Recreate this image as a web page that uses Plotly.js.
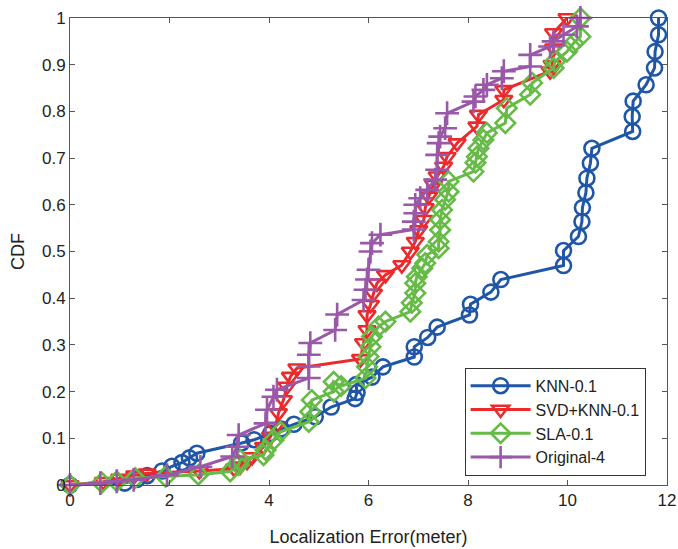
<!DOCTYPE html>
<html>
<head>
<meta charset="utf-8">
<script src="https://cdn.plot.ly/plotly-3.0.1.min.js"></script>
<style>html,body{margin:0;padding:0;background:#fff;}#chart{width:678px;height:549px;}</style>
</head>
<body>
<div id="chart"></div>
<script>
// KNN-0.1
const knnX = [0, 1.1, 1.35, 1.55, 1.85, 2.05, 2.25, 2.4, 2.55, 3.45, 3.7, 4.03, 4.25, 4.5, 4.93, 5.25, 5.73, 5.77, 5.75, 6.07, 6.29, 6.92, 6.92, 7.19, 7.38, 8.03, 8.05, 8.46, 8.66, 9.92, 9.92, 10.22, 10.29, 10.30, 10.37, 10.39, 10.46, 10.49, 11.31, 11.30, 11.32, 11.58, 11.75, 11.76, 11.83, 11.83];
const knnY = [0, 0.004, 0.012, 0.02, 0.03, 0.04, 0.048, 0.058, 0.068, 0.09, 0.097, 0.11, 0.12, 0.13, 0.146, 0.167, 0.185, 0.198, 0.215, 0.231, 0.253, 0.274, 0.296, 0.316, 0.338, 0.364, 0.387, 0.413, 0.44, 0.47, 0.502, 0.532, 0.564, 0.594, 0.626, 0.657, 0.689, 0.721, 0.757, 0.789, 0.822, 0.857, 0.893, 0.928, 0.964, 1.0];
// SVD+KNN-0.1
const svdX = [0, 0.67, 1.0, 1.3, 1.55, 2.6, 3.3, 3.42, 3.56, 3.66, 3.89, 4.03, 4.13, 4.19, 4.29, 4.36, 4.43, 4.56, 5.84, 5.9, 5.97, 5.97, 6.04, 6.10, 6.17, 6.34, 6.67, 6.84, 6.94, 7.01, 7.11, 7.14, 7.21, 7.31, 7.38, 7.51, 7.58, 7.78, 8.18, 8.21, 8.72, 8.72, 9.65, 9.69, 9.72, 9.72, 9.99];
const svdY = [0, 0.007, 0.014, 0.021, 0.025, 0.03, 0.035, 0.04, 0.05, 0.06, 0.082, 0.104, 0.125, 0.154, 0.182, 0.211, 0.232, 0.25, 0.27, 0.304, 0.332, 0.364, 0.386, 0.41, 0.432, 0.45, 0.471, 0.5, 0.521, 0.546, 0.568, 0.593, 0.618, 0.643, 0.661, 0.682, 0.703, 0.732, 0.768, 0.793, 0.825, 0.846, 0.886, 0.9, 0.935, 0.968, 1.0];
// SLA-0.1
const slaX = [0, 0.64, 0.94, 1.31, 1.92, 2.58, 3.22, 3.39, 3.42, 3.89, 3.93, 4.09, 4.23, 4.8, 4.83, 4.86, 5.3, 5.3, 5.45, 5.94, 5.97, 6.0, 6.04, 6.07, 6.2, 6.34, 6.84, 6.87, 6.94, 6.94, 6.97, 7.08, 7.14, 7.18, 7.41, 7.41, 7.44, 7.44, 7.48, 7.54, 7.61, 7.61, 8.11, 8.15, 8.18, 8.21, 8.31, 8.38, 8.75, 8.78, 9.25, 9.29, 9.72, 9.75, 9.99, 10.12, 10.26, 10.26];
const slaY = [0, 0.005, 0.008, 0.015, 0.018, 0.022, 0.029, 0.043, 0.054, 0.064, 0.075, 0.096, 0.114, 0.135, 0.157, 0.182, 0.2, 0.221, 0.212, 0.229, 0.253, 0.275, 0.296, 0.318, 0.339, 0.35, 0.371, 0.39, 0.411, 0.432, 0.446, 0.464, 0.475, 0.493, 0.507, 0.521, 0.546, 0.568, 0.589, 0.611, 0.628, 0.65, 0.671, 0.69, 0.703, 0.721, 0.739, 0.754, 0.775, 0.807, 0.836, 0.861, 0.893, 0.907, 0.928, 0.946, 0.96, 1.0];
// Original-4
const orgX = [0, 0.61, 0.94, 1.28, 1.95, 2.62, 3.26, 3.36, 3.39, 3.93, 3.96, 4.09, 4.16, 4.8, 4.8, 4.8, 4.83, 5.33, 5.37, 5.9, 5.94, 5.97, 6.0, 6.04, 6.07, 6.24, 6.91, 6.91, 6.94, 6.94, 7.04, 7.18, 7.34, 7.38, 7.38, 7.41, 7.44, 7.54, 7.58, 8.11, 8.15, 8.31, 8.38, 8.68, 8.72, 9.25, 9.25, 9.65, 9.72, 9.92, 10.19, 10.26];
const orgY = [0, 0.004, 0.008, 0.011, 0.021, 0.039, 0.061, 0.082, 0.107, 0.132, 0.161, 0.189, 0.204, 0.229, 0.254, 0.279, 0.304, 0.332, 0.365, 0.396, 0.418, 0.44, 0.461, 0.5, 0.518, 0.536, 0.547, 0.564, 0.582, 0.6, 0.614, 0.632, 0.654, 0.675, 0.707, 0.732, 0.746, 0.764, 0.796, 0.821, 0.832, 0.846, 0.857, 0.871, 0.886, 0.896, 0.921, 0.939, 0.95, 0.964, 0.982, 1.0];

const seriesNames = ['KNN-0.1', 'SVD+KNN-0.1', 'SLA-0.1', 'Original-4'];
const xTicks = [0, 2, 4, 6, 8, 10, 12];
const yTicks = [0, 0.1, 0.2, 0.3, 0.4, 0.5, 0.6, 0.7, 0.8, 0.9, 1];
const yTickText = ['0', '0.1', '0.2', '0.3', '0.4', '0.5', '0.6', '0.7', '0.8', '0.9', '1'];

const colors = ['#1f56a7', '#ec2a2c', '#66bb47', '#9a58a8'];
const symbols = ['circle-open', 'triangle-down-open', 'diamond-open', 'cross-thin-open'];
const sizes = [15, 15, 15, 17];
const xs = [knnX, svdX, slaX, orgX];
const ys = [knnY, svdY, slaY, orgY];

const traces = seriesNames.map((n, i) => ({
  x: xs[i], y: ys[i], name: n, type: 'scatter', mode: 'lines+markers',
  cliponaxis: false,
  line: {color: colors[i], width: 3},
  marker: {symbol: symbols[i], size: sizes[i], color: colors[i], line: {color: colors[i], width: 2.6}}
}));

const font = {family: '"Liberation Sans", Arial, Helvetica, sans-serif', color: '#222', size: 17};

const layout = {
  width: 678, height: 549,
  margin: {l: 70, r: 11, t: 18, b: 64},
  paper_bgcolor: '#fff', plot_bgcolor: '#fff',
  font: font,
  showlegend: true,
  xaxis: {
    range: [0, 12], tickvals: xTicks, ticktext: xTicks.map(String),
    showline: true, linecolor: '#555', linewidth: 1, mirror: 'ticks',
    ticks: 'inside', ticklen: 5, tickcolor: '#555',
    showgrid: false, zeroline: false,
    title: {text: 'Localization Error(meter)', font: {size: 18, color: '#222'}, standoff: 20},
    tickfont: {size: 17}
  },
  yaxis: {
    range: [0, 1], tickvals: yTicks, ticktext: yTickText,
    showline: true, linecolor: '#555', linewidth: 1, mirror: 'ticks',
    ticks: 'inside', ticklen: 5, tickcolor: '#555',
    showgrid: false, zeroline: false,
    title: {text: 'CDF', font: {size: 18, color: '#222'}, standoff: 12},
    tickfont: {size: 17}
  },
  legend: {
    x: 0.661, y: 0.251, xanchor: 'left', yanchor: 'top',
    bgcolor: '#fff', bordercolor: '#333', borderwidth: 1,
    font: {size: 16, color: '#222'}, tracegroupgap: 0, itemwidth: 60
  }
};

Plotly.newPlot('chart', traces, layout, {displayModeBar: false, staticPlot: true});
</script>
</body>
</html>
